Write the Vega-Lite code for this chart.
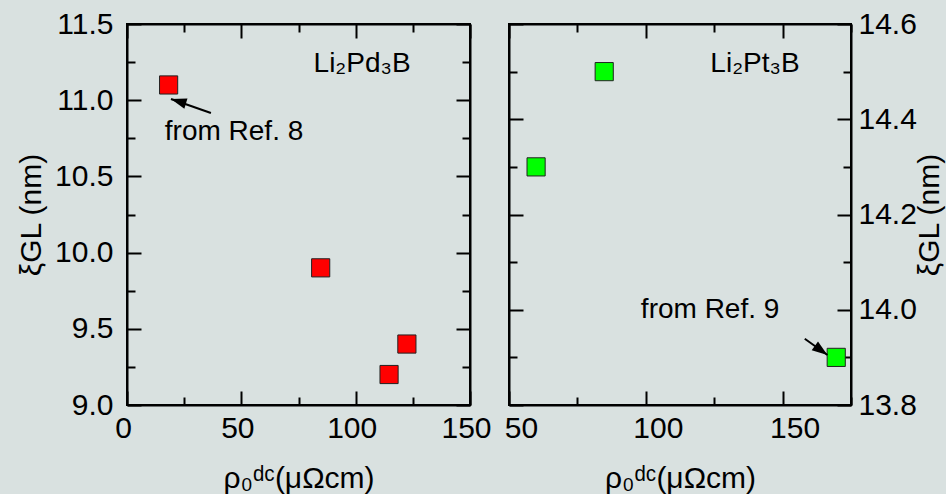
{
  "$schema": "https://vega.github.io/schema/vega-lite/v6.json",
  "background": "#d9e1e0",
  "padding": {"left": 15, "top": 8, "right": 0, "bottom": 0},
  "config": {
    "font": "Liberation Sans",
    "view": {"stroke": "#000000", "strokeWidth": 2},
    "axis": {
      "grid": false,
      "domainColor": "#000000", "domainWidth": 2,
      "tickColor": "#000000", "tickWidth": 2,
      "labelFont": "Liberation Sans", "labelFontSize": 30, "labelColor": "#000000",
      "labelFlush": false, "labelOverlap": false,
      "titleFont": "Liberation Sans", "titleFontSize": 30, "titleFontWeight": "normal", "titleColor": "#000000"
    },
    "text": {"font": "Liberation Sans"}
  },
  "bounds": "flush",
  "spacing": 39,
  "hconcat": [
    {
      "width": 343, "height": 381,
      "layer": [
        {
          "data": {"values": [{"rho": 18.2, "xi": 11.1}, {"rho": 84.7, "xi": 9.9}, {"rho": 114.6, "xi": 9.2}, {"rho": 122.4, "xi": 9.4}]},
          "mark": {"type": "square", "size": 330, "filled": true, "color": "#ff0000", "stroke": "#222222", "strokeWidth": 1, "opacity": 1},
          "encoding": {
            "x": {"field": "rho", "type": "quantitative", "scale": {"domain": [0, 150], "nice": false, "zero": false},
                  "axis": {"orient": "bottom", "values": [0, 25, 50, 75, 100, 125, 150],
                           "tickSize": {"condition": {"test": "datum.value % 50 == 0", "value": -14}, "value": -8},
                           "labelExpr": "datum.value % 50 == 0 ? datum.label : ''", "labelPadding": 22, "labelOffset": -4,
                           "title": "ρ₀ᵈᶜ(μΩcm)", "titlePadding": 14}},
            "y": {"field": "xi", "type": "quantitative", "scale": {"domain": [9, 11.5], "nice": false, "zero": false},
                  "axis": {"orient": "left", "values": [9, 9.25, 9.5, 9.75, 10, 10.25, 10.5, 10.75, 11, 11.25, 11.5],
                           "tickSize": {"condition": {"test": "abs(datum.value*2 - round(datum.value*2)) < 0.001", "value": -14}, "value": -8},
                           "labelExpr": "abs(datum.value*2 - round(datum.value*2)) < 0.001 ? format(datum.value, '.1f') : ''", "labelPadding": 28,
                           "title": "ξGL (nm)", "titlePadding": 8}}
          }
        },
        {
          "data": {"values": [{"rho": 18.2, "xi": 11.1}, {"rho": 84.7, "xi": 9.9}, {"rho": 114.6, "xi": 9.2}, {"rho": 122.4, "xi": 9.4}]},
          "mark": {"type": "square", "opacity": 0},
          "encoding": {
            "x": {"field": "rho", "type": "quantitative", "scale": {"domain": [0, 150], "nice": false, "zero": false},
                  "axis": {"orient": "top", "values": [0, 25, 50, 75, 100, 125, 150], "labels": false, "title": null,
                           "tickSize": {"condition": {"test": "datum.value % 50 == 0", "value": -14}, "value": -8}}},
            "y": {"field": "xi", "type": "quantitative", "scale": {"domain": [9, 11.5], "nice": false, "zero": false},
                  "axis": {"orient": "right", "values": [9, 9.25, 9.5, 9.75, 10, 10.25, 10.5, 10.75, 11, 11.25, 11.5], "labels": false, "title": null,
                           "tickSize": {"condition": {"test": "abs(datum.value*2 - round(datum.value*2)) < 0.001", "value": -14}, "value": -8}}}
          }
        },
        {
          "data": {"values": [{"rho": 102.8, "xi": 11.24, "label": "Li₂Pd₃B"}, {"rho": 46.8, "xi": 10.79, "label": "from Ref. 8"}]},
          "mark": {"type": "text", "fontSize": 28, "color": "#000000", "align": "center", "baseline": "middle"},
          "encoding": {
            "x": {"field": "rho", "type": "quantitative", "scale": {"domain": [0, 150], "nice": false, "zero": false}, "axis": null},
            "y": {"field": "xi", "type": "quantitative", "scale": {"domain": [9, 11.5], "nice": false, "zero": false}, "axis": null},
            "text": {"field": "label"}
          }
        },
        {
          "data": {"values": [{"rho": 36.7, "xi": 10.916, "rho2": 19.24, "xi2": 11.008}]},
          "mark": {"type": "rule", "color": "#000000", "strokeWidth": 2},
          "encoding": {
            "x": {"field": "rho", "type": "quantitative", "scale": {"domain": [0, 150], "nice": false, "zero": false}, "axis": null},
            "y": {"field": "xi", "type": "quantitative", "scale": {"domain": [9, 11.5], "nice": false, "zero": false}, "axis": null},
            "x2": {"field": "rho2"},
            "y2": {"field": "xi2"}
          }
        },
        {
          "data": {"values": [{"rho2": 19.24, "xi2": 11.008}]},
          "mark": {"type": "point", "shape": "M0,0L0.55,1.6L-0.55,1.6Z", "size": 380, "filled": true, "color": "#000000", "opacity": 1, "angle": 287},
          "encoding": {
            "x": {"field": "rho2", "type": "quantitative", "scale": {"domain": [0, 150], "nice": false, "zero": false}, "axis": null},
            "y": {"field": "xi2", "type": "quantitative", "scale": {"domain": [9, 11.5], "nice": false, "zero": false}, "axis": null}
          }
        }
      ],
      "resolve": {"axis": {"x": "independent", "y": "independent"}}
    },
    {
      "width": 342, "height": 381,
      "layer": [
        {
          "data": {"values": [{"rho": 59.9, "xi": 14.3}, {"rho": 84.8, "xi": 14.5}, {"rho": 169.6, "xi": 13.9}]},
          "mark": {"type": "square", "size": 330, "filled": true, "color": "#00ff00", "stroke": "#222222", "strokeWidth": 1, "opacity": 1},
          "encoding": {
            "x": {"field": "rho", "type": "quantitative", "scale": {"domain": [50, 175], "nice": false, "zero": false},
                  "axis": {"orient": "bottom", "values": [50, 75, 100, 125, 150, 175],
                           "tickSize": {"condition": {"test": "datum.value % 50 == 0", "value": -14}, "value": -8},
                           "labelExpr": "datum.value % 50 == 0 ? datum.label : ''", "labelPadding": 22, "labelOffset": 12,
                           "title": "ρ₀ᵈᶜ(μΩcm)", "titlePadding": 14}},
            "y": {"field": "xi", "type": "quantitative", "scale": {"domain": [13.8, 14.6], "nice": false, "zero": false},
                  "axis": {"orient": "right", "values": [13.8, 13.9, 14.0, 14.1, 14.2, 14.3, 14.4, 14.5, 14.6],
                           "tickSize": {"condition": {"test": "abs(datum.value*5 - round(datum.value*5)) < 0.001", "value": -14}, "value": -8},
                           "labelExpr": "abs(datum.value*5 - round(datum.value*5)) < 0.001 ? format(datum.value, '.1f') : ''", "labelPadding": 21,
                           "title": "ξGL (nm)", "titleAngle": 270, "titleBaseline": "top", "titlePadding": -2}}
          }
        },
        {
          "data": {"values": [{"rho": 59.9, "xi": 14.3}, {"rho": 84.8, "xi": 14.5}, {"rho": 169.6, "xi": 13.9}]},
          "mark": {"type": "square", "opacity": 0},
          "encoding": {
            "x": {"field": "rho", "type": "quantitative", "scale": {"domain": [50, 175], "nice": false, "zero": false},
                  "axis": {"orient": "top", "values": [50, 75, 100, 125, 150, 175], "labels": false, "title": null,
                           "tickSize": {"condition": {"test": "datum.value % 50 == 0", "value": -14}, "value": -8}}},
            "y": {"field": "xi", "type": "quantitative", "scale": {"domain": [13.8, 14.6], "nice": false, "zero": false},
                  "axis": {"orient": "left", "values": [13.8, 13.9, 14.0, 14.1, 14.2, 14.3, 14.4, 14.5, 14.6], "labels": false, "title": null,
                           "tickSize": {"condition": {"test": "abs(datum.value*5 - round(datum.value*5)) < 0.001", "value": -14}, "value": -8}}}
          }
        },
        {
          "data": {"values": [{"rho": 139.9, "xi": 14.517, "label": "Li₂Pt₃B"}, {"rho": 123.5, "xi": 14.0, "label": "from Ref. 9"}]},
          "mark": {"type": "text", "fontSize": 28, "color": "#000000", "align": "center", "baseline": "middle"},
          "encoding": {
            "x": {"field": "rho", "type": "quantitative", "scale": {"domain": [50, 175], "nice": false, "zero": false}, "axis": null},
            "y": {"field": "xi", "type": "quantitative", "scale": {"domain": [13.8, 14.6], "nice": false, "zero": false}, "axis": null},
            "text": {"field": "label"}
          }
        },
        {
          "data": {"values": [{"rho": 158.1, "xi": 13.939, "rho2": 166.4, "xi2": 13.905}]},
          "mark": {"type": "rule", "color": "#000000", "strokeWidth": 2},
          "encoding": {
            "x": {"field": "rho", "type": "quantitative", "scale": {"domain": [50, 175], "nice": false, "zero": false}, "axis": null},
            "y": {"field": "xi", "type": "quantitative", "scale": {"domain": [13.8, 14.6], "nice": false, "zero": false}, "axis": null},
            "x2": {"field": "rho2"},
            "y2": {"field": "xi2"}
          }
        },
        {
          "data": {"values": [{"rho2": 166.4, "xi2": 13.905}]},
          "mark": {"type": "point", "shape": "M0,0L0.55,1.6L-0.55,1.6Z", "size": 380, "filled": true, "color": "#000000", "opacity": 1, "angle": 126},
          "encoding": {
            "x": {"field": "rho2", "type": "quantitative", "scale": {"domain": [50, 175], "nice": false, "zero": false}, "axis": null},
            "y": {"field": "xi2", "type": "quantitative", "scale": {"domain": [13.8, 14.6], "nice": false, "zero": false}, "axis": null}
          }
        }
      ],
      "resolve": {"axis": {"x": "independent", "y": "independent"}}
    }
  ]
}
